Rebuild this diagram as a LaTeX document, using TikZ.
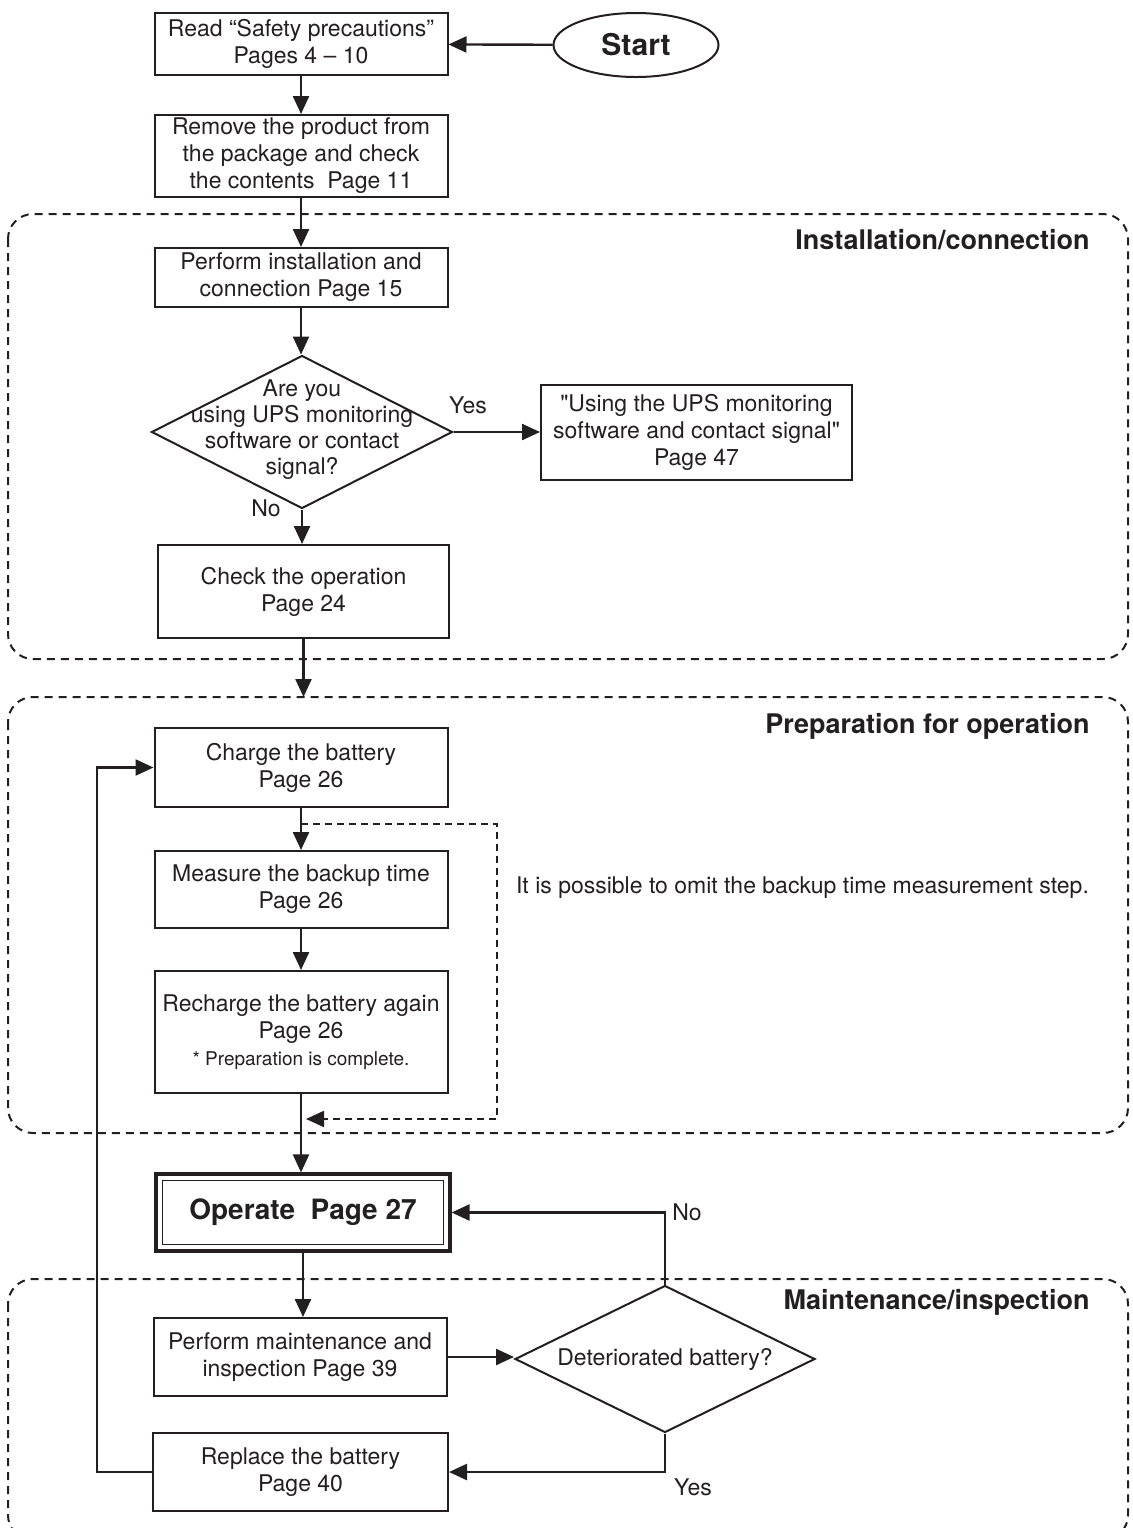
\documentclass[tikz,border=0pt]{standalone}
\usepackage{fontspec}
\setmainfont{TeX Gyre Heros}[Ligatures=TeXOff]
\usetikzlibrary{arrows.meta}
\usetikzlibrary{shapes.geometric}
\definecolor{ink}{HTML}{231F20}

\begin{document}
\begin{tikzpicture}[x=0.5pt,y=-0.5pt,
    every node/.style={font=\fontsize{11.5}{13.5}\selectfont, text=ink},
    box/.style={draw=ink, line width=1pt, rectangle, align=center, inner sep=0pt, minimum width=146.5pt},
    decision/.style={draw=ink, line width=1pt, diamond, inner sep=0pt},
    flow/.style={draw=ink, line width=1.2pt, -{Triangle[length=9pt,width=8pt]}},
    skipflow/.style={draw=ink, line width=1pt, dash pattern=on 3.5pt off 2.5pt, -{Triangle[length=9pt,width=8pt]}},
    region/.style={draw=ink, line width=1pt, dash pattern=on 4pt off 3pt, rounded corners=12.5pt},
    regiontitle/.style={anchor=east, inner sep=0pt, font=\fontsize{13.5}{16}\selectfont\bfseries},
  ]
                \useasboundingbox (0,0) rectangle (1132,1528);
                % regions
                \draw[region] (8,214) rectangle (1128,659);
                \draw[region] (8,697) rectangle (1128,1133);
                \draw[region] (8,1279) rectangle (1128,1540);
                \node[regiontitle] (installtitle) at (1090,240) {Installation/connection};
                \node[regiontitle] (preptitle) at (1090,726) {Preparation for operation};
                \node[regiontitle] (mainttitle) at (1090,1302) {Maintenance/inspection};
                % steps
                \node[draw=ink, line width=1pt, ellipse, inner sep=0pt, minimum width=82.5pt, minimum height=32pt,
                      font=\fontsize{15}{18}\selectfont\bfseries] (start) at (636,45) {Start};
                \node[box, minimum height=31pt] (read) at (301,44) {Read “Safety precautions”\\Pages 4 – 10};
                \node[box, minimum height=41pt] (remove) at (301,156) {Remove the product from\\the package and check\\the contents\ \ Page 11};
                \node[box, minimum height=29.5pt] (install) at (301,277.5) {Perform installation and\\connection Page 15};
                \node[decision, minimum width=150.5pt, minimum height=76.5pt] (ask) at (302,432) {};
                \node[align=center, font=\fontsize{11.5}{13}\selectfont] (asktext) at (302,430) {Are you\\using UPS monitoring\\software or contact\\signal?};
                \node[box, minimum width=155.5pt, minimum height=47.5pt] (uses) at (696.5,432) {"Using the UPS monitoring\\software and contact signal"\\Page 47};
                \node[box, minimum width=145.5pt, minimum height=46.5pt] (check) at (303.5,591.5) {Check the operation\\Page 24};
                \node[box, minimum height=39.5pt] (charge) at (301,767.5) {Charge the battery\\Page 26};
                \node[box, minimum height=38.5pt] (measure) at (301,889.5) {Measure the backup time\\Page 26};
                \node[box, minimum height=61pt] (recharge) at (301,1032) {Recharge the battery again\\Page 26\\{\fontsize{9.5}{13}\selectfont * Preparation is complete.}};
                \node[box, line width=1.6pt, minimum width=147pt, minimum height=38.5pt,
                      font=\fontsize{14}{16}\selectfont\bfseries] (operate) at (303,1212.5) {Operate\ \ Page 27};
                \draw[ink, line width=0.8pt] ([xshift=4pt,yshift=-4pt]operate.north west) rectangle ([xshift=-4pt,yshift=4pt]operate.south east);
                \node[box, minimum height=39pt] (maint) at (300,1357) {Perform maintenance and\\inspection Page 39};
                \node[decision, minimum width=150pt, minimum height=73.5pt] (deter) at (665,1359) {};
                \node (detertext) at (665,1359) {Deteriorated battery?};
                \node[box, minimum width=147.5pt, minimum height=39pt] (replace) at (300.5,1472) {Replace the battery\\Page 40};
                \node[anchor=west] (note) at (509,888) {It is possible to omit the backup time measurement step.};
                % connectors
                \coordinate (preptop) at (303.5,697);
                \coordinate (skipstart) at (301,824);
                \coordinate (skipright) at (497,824);
                \coordinate (skipend) at (306,1119);
                \coordinate (loopx) at (97,1000);
                \draw[flow] (start) -- (read);
                \draw[flow] (read) -- (remove);
                \draw[flow] (remove) -- (install);
                \draw[flow] (install.south) -- (install.south |- ask.north);
                \draw[flow] (ask.east) -- (uses.west);
                \draw[flow] (ask.south) -- (ask.south |- check.north);
                \draw[flow] (check) -- (preptop);
                \draw[flow] (charge) -- (measure);
                \draw[skipflow] (skipstart) -- (skipright) |- (skipend);
                \draw[flow] (measure) -- (recharge);
                \draw[flow] (recharge.south) -- (recharge.south |- operate.north);
                \draw[flow] (operate.south) -- (operate.south |- maint.north);
                \draw[flow] (maint.east) -- (maint.east -| deter.west);
                \draw[flow] (deter.north) |- (operate.east);
                \draw[flow] (deter.south) |- (replace.east);
                \draw[flow] (replace.west) -| (loopx) |- (charge.west);
                % answers
                \node (askyes) at (468,405) {Yes};
                \node (askno) at (266,508) {No};
                \node (deterno) at (687,1212) {No};
                \node (deteryes) at (693,1487) {Yes};
\end{tikzpicture}
\end{document}
